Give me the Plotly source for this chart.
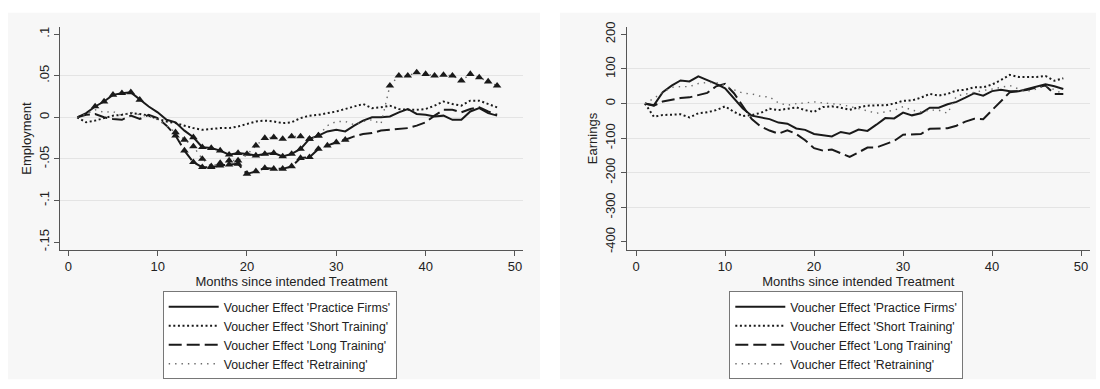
import plotly.graph_objects as go

# Months since intended treatment
months = list(range(1, 49))

# Employment effects by voucher type
pf_emp = [0, 0.005, 0.013, 0.019, 0.027, 0.029, 0.030, 0.021, 0.013, 0.006,
          -0.003, -0.006, -0.016, -0.024, -0.036, -0.037, -0.040, -0.045, -0.043, -0.044,
          -0.046, -0.044, -0.043, -0.047, -0.044, -0.038, -0.026, -0.022, -0.017, -0.015,
          -0.017, -0.010, -0.004, 0.000, 0.000, 0.001, 0.006, 0.010, 0.004, 0.003,
          0.001, 0.002, -0.003, -0.003, 0.007, 0.011, 0.005, 0.002]
st_emp = [0, -0.006, -0.004, -0.001, 0.002, 0.003, 0.005, 0.004, 0.002, -0.002,
          -0.005, -0.007, -0.010, -0.013, -0.015, -0.014, -0.013, -0.013, -0.011, -0.008,
          -0.005, -0.004, -0.005, -0.007, -0.006, -0.001, 0.002, 0.003, 0.005, 0.007,
          0.010, 0.013, 0.016, 0.011, 0.012, 0.014, 0.010, 0.009, 0.009, 0.010,
          0.014, 0.019, 0.016, 0.014, 0.020, 0.020, 0.016, 0.012]
lt_emp = [0, 0.003, 0.004, 0.000, -0.002, -0.003, 0.002, -0.002, 0.003, -0.001,
          -0.010, -0.022, -0.040, -0.054, -0.060, -0.060, -0.058, -0.057, -0.056, -0.068,
          -0.065, -0.061, -0.062, -0.062, -0.059, -0.049, -0.048, -0.038, -0.034, -0.030,
          -0.027, -0.023, -0.020, -0.019, -0.016, -0.015, -0.014, -0.013, -0.010, -0.006,
          0.002, 0.009, 0.009, 0.006, 0.010, 0.012, 0.007, 0.003]
rt_emp = [0, 0.004, 0.009, 0.006, 0.007, 0.002, 0.006, 0.003, 0.001, -0.003,
          -0.010, -0.018, -0.027, -0.035, -0.050, -0.059, -0.055, -0.052, -0.052, -0.045,
          -0.034, -0.025, -0.024, -0.026, -0.023, -0.023, -0.026, -0.022, -0.010, -0.005,
          -0.005, -0.009, -0.005, -0.003, -0.008, 0.038, 0.050, 0.050, 0.054, 0.052,
          0.050, 0.051, 0.050, 0.044, 0.052, 0.048, 0.043, 0.038]

# Months with a significant employment effect (drawn with triangles)
pf_emp_sig = [3, 4, 5, 6, 7, 8] + list(range(14, 29))
st_emp_sig = []
lt_emp_sig = list(range(12, 32))
rt_emp_sig = list(range(12, 20)) + list(range(21, 29)) + list(range(36, 49))

# Earnings effects by voucher type
pf_earn = [0, -5, 33, 52, 67, 64, 79, 69, 57, 44,
           16, -14, -35, -41, -45, -55, -58, -72, -76, -88,
           -92, -95, -82, -87, -75, -79, -61, -42, -43, -26,
           -34, -28, -12, -12, -2, 5, 17, 30, 23, 36,
           40, 36, 36, 42, 49, 56, 50, 42]
st_earn = [0, -38, -33, -31, -31, -40, -28, -25, -19, -8,
           -24, -36, -33, -27, -15, -19, -14, -11, -19, -24,
           -10, -8, -12, -18, -11, -6, -5, -5, 0, 8,
           9, 17, 28, 23, 28, 38, 40, 47, 47, 55,
           68, 83, 77, 77, 77, 80, 66, 73]
lt_earn = [0, -6, 6, 12, 16, 18, 25, 31, 50, 57,
           30, -8, -45, -66, -78, -87, -77, -88, -106, -129,
           -136, -133, -144, -154, -141, -127, -127, -118, -108, -90,
           -88, -88, -73, -71, -71, -64, -52, -44, -45, -19,
           8, 33, 36, 40, 47, 52, 28, 28]
rt_earn = [0, 15, 33, 47, 49, 49, 58, 61, 61, 52,
           40, 30, 28, 21, 19, 2, -5, 0, 2, 5,
           2, 0, -3, -8, -14, -20, -28, -24, -19, -9,
           -19, -24, -19, -19, -28, 22, 28, 34, 38, 42,
           46, 52, 42, 36, 42, 52, 40, 28]

series_names = ["Voucher Effect 'Practice Firms'", "Voucher Effect 'Short Training'",
                "Voucher Effect 'Long Training'", "Voucher Effect 'Retraining'"]

emp_ticks = [-0.15, -0.1, -0.05, 0, 0.05, 0.1]
emp_ticktext = ["-.15", "-.1", "-.05", "0", ".05", ".1"]
earn_ticks = [-400, -300, -200, -100, 0, 100, 200]
earn_ticktext = ["-400", "-300", "-200", "-100", "0", "100", "200"]
x_ticks = [0, 10, 20, 30, 40, 50]

INK = "#1a1a1a"
styles = [
    dict(color=INK, width=2, dash="solid"),
    dict(color=INK, width=2, dash="2px,2.6px"),
    dict(color=INK, width=2, dash="13px,5px"),
    dict(color="#6a6a6a", width=1.4, dash="1.4px,5px"),
]

FONT = "Liberation Sans, Arial, sans-serif"
AX_SIZE = 13
fig = go.Figure()

panels = [
    ("x", "y", "legend", [pf_emp, st_emp, lt_emp, rt_emp],
     [pf_emp_sig, st_emp_sig, lt_emp_sig, rt_emp_sig]),
    ("x2", "y2", "legend2", [pf_earn, st_earn, lt_earn, rt_earn],
     [[], [], [], []]),
]

for xa, ya, leg, data, sigs in panels:
    for name, vals, sty, sig in zip(series_names, data, styles, sigs):
        fig.add_trace(go.Scatter(
            x=months, y=vals, mode="lines", name=name, line=sty,
            xaxis=xa, yaxis=ya, legend=leg, showlegend=True,
        ))
        if sig:
            fig.add_trace(go.Scatter(
                x=[m for m in months if m in sig],
                y=[v for m, v in zip(months, vals) if m in sig],
                mode="markers",
                marker=dict(symbol="triangle-up", size=7.5, color=INK),
                xaxis=xa, yaxis=ya, showlegend=False, hoverinfo="skip",
            ))

axis_common = dict(
    showline=True, linecolor="#555555", linewidth=1.2,
    ticks="outside", ticklen=5, tickcolor="#555555", tickwidth=1.2,
    tickfont=dict(family=FONT, size=AX_SIZE, color="#222222"),
    zeroline=False, showgrid=False,
)

x_common = dict(axis_common, range=[-0.93, 50.9], tickvals=x_ticks,
                title=dict(text="Months since intended Treatment",
                           font=dict(family=FONT, size=AX_SIZE, color="#222222"),
                           standoff=3))

legend_common = dict(
    xanchor="left", yanchor="top",
    bgcolor="white", bordercolor="#777777", borderwidth=1,
    font=dict(family=FONT, size=12.3, color="#222222"),
    itemwidth=50, tracegroupgap=0,
)

fig.update_layout(
    width=1100, height=389,
    margin=dict(l=0, r=0, t=0, b=0),
    paper_bgcolor="white",
    plot_bgcolor="#f7f7f7",
    font=dict(family=FONT, color="#222222"),
    xaxis=dict(x_common, domain=[60 / 1100, 523 / 1100], anchor="y"),
    xaxis2=dict(x_common, domain=[626.7 / 1100, 1090 / 1100], anchor="y2",
                range=[-1.05, 51.0]),
    yaxis=dict(axis_common, domain=[1 - 249.3 / 389, 1 - 22 / 389], anchor="x",
               range=[-0.159, 0.108], tickvals=emp_ticks, ticktext=emp_ticktext,
               tickangle=-90,
               minor=dict(tickvals=[-0.1, -0.05, 0, 0.05], showgrid=True,
                          gridcolor="#e4e4e4", gridwidth=1.2, ticks=""),
               title=dict(text="Employment", font=dict(family=FONT, size=AX_SIZE),
                          standoff=2)),
    yaxis2=dict(axis_common, domain=[1 - 249.3 / 389, 1 - 22 / 389], anchor="x2",
                range=[-422, 220], tickvals=earn_ticks, ticktext=earn_ticktext,
                tickangle=-90,
                minor=dict(tickvals=[-300, -200, -100, 0, 100], showgrid=True,
                           gridcolor="#e4e4e4", gridwidth=1.2, ticks=""),
                title=dict(text="Earnings", font=dict(family=FONT, size=AX_SIZE),
                           standoff=2)),
    legend=dict(legend_common, x=162.7 / 1100, y=1 - 292 / 389),
    legend2=dict(legend_common, x=729.3 / 1100, y=1 - 292 / 389),
    shapes=[
        dict(type="rect", xref="paper", yref="paper", layer="below",
             x0=8 / 1100, x1=540 / 1100, y0=1 - 382 / 389, y1=1 - 7 / 389,
             fillcolor="#f7f7f7", line=dict(width=0)),
        dict(type="rect", xref="paper", yref="paper", layer="below",
             x0=560 / 1100, x1=1096 / 1100, y0=1 - 382 / 389, y1=1 - 7 / 389,
             fillcolor="#f7f7f7", line=dict(width=0)),
    ],
)

fig.write_html("out.html")
